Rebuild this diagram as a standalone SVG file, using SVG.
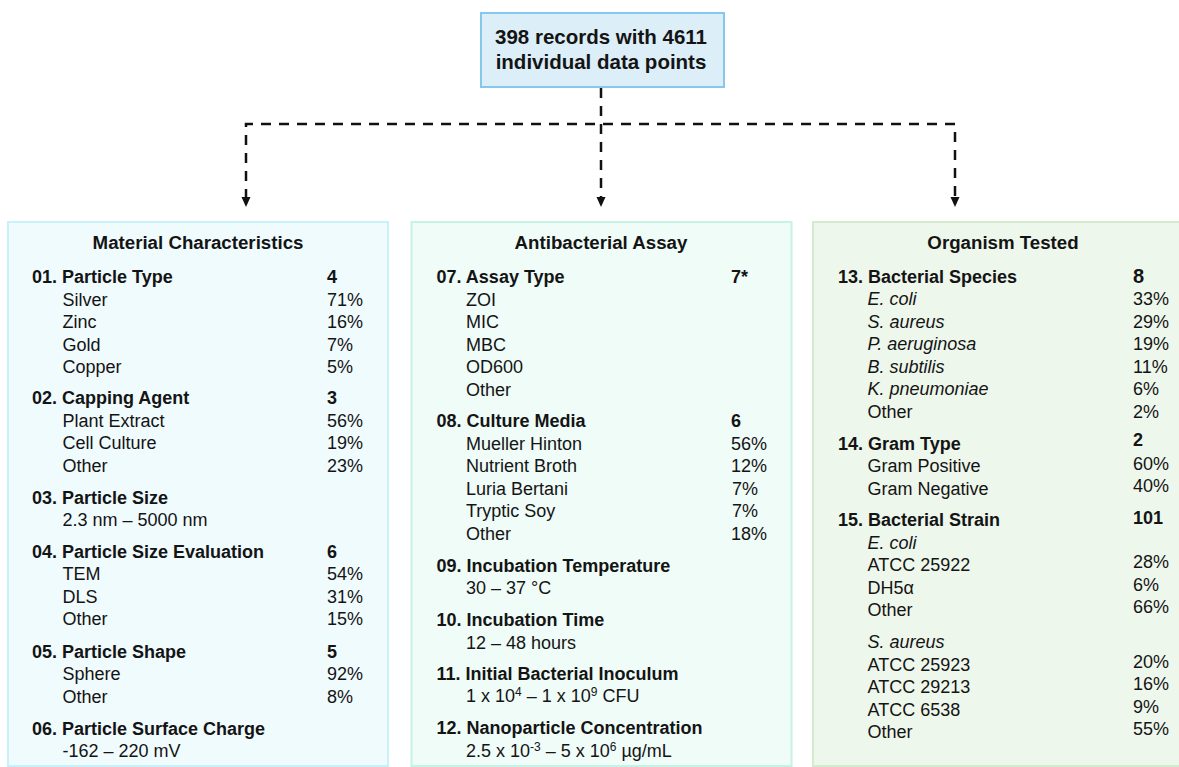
<svg xmlns="http://www.w3.org/2000/svg" width="1179" height="767" viewBox="0 0 1179 767">
<defs>
<style>
text{font-family:"Liberation Sans",Arial,sans-serif;fill:#141414;}
.t{font-size:18.7px;font-weight:bold;text-anchor:middle;}
.h{font-size:18px;font-weight:bold;}
.r{font-size:18px;}
.i{font-size:18px;font-style:italic;}
.top{font-size:20.5px;font-weight:bold;text-anchor:middle;}
.sup{font-size:12px;}
.conn{fill:none;stroke:#111;stroke-width:2.5;stroke-dasharray:10 8;}
</style>
<marker id="arr" markerUnits="userSpaceOnUse" markerWidth="12" markerHeight="12" refX="2" refY="4.5" orient="auto-start-reverse">
<path d="M0,0 L10,4.5 L0,9 z" fill="#111"/>
</marker>
</defs>
<rect width="1179" height="767" fill="#fff"/>

<g id="connectors">
<path class="conn" d="M601,88 V199" marker-end="url(#arr)"/>
<path class="conn" d="M246,199 V124 H955 V199" marker-start="url(#arr)" marker-end="url(#arr)"/>
</g>

<g id="node-records">
<rect x="481" y="13" width="243" height="74" fill="#DCEEF8" stroke="#86C8EC" stroke-width="2"/>
<text class="top" x="601" y="44">398 records with 4611</text>
<text class="top" x="601" y="69">individual data points</text>
</g>

<g id="node-material">
<rect x="8" y="222" width="380" height="544" fill="#F0FBFE" stroke="#C8F1F9" stroke-width="2"/>
<text class="t" x="198" y="249">Material Characteristics</text>
<text class="h" x="32" y="283">01. Particle Type</text><text class="h" x="327" y="283">4</text>
<text class="r" x="62.5" y="305.5">Silver</text><text class="r" x="327" y="305.5">71%</text>
<text class="r" x="62.5" y="328">Zinc</text><text class="r" x="327" y="328">16%</text>
<text class="r" x="62.5" y="350.5">Gold</text><text class="r" x="327" y="350.5">7%</text>
<text class="r" x="62.5" y="373">Copper</text><text class="r" x="327" y="373">5%</text>
<text class="h" x="32" y="404">02. Capping Agent</text><text class="h" x="327" y="404">3</text>
<text class="r" x="62.5" y="426.5">Plant Extract</text><text class="r" x="327" y="426.5">56%</text>
<text class="r" x="62.5" y="449">Cell Culture</text><text class="r" x="327" y="449">19%</text>
<text class="r" x="62.5" y="471.5">Other</text><text class="r" x="327" y="471.5">23%</text>
<text class="h" x="32" y="503.5">03. Particle Size</text>
<text class="r" x="62.5" y="526">2.3 nm – 5000 nm</text>
<text class="h" x="32" y="557.5">04. Particle Size Evaluation</text><text class="h" x="327" y="557.5">6</text>
<text class="r" x="62.5" y="580">TEM</text><text class="r" x="327" y="580">54%</text>
<text class="r" x="62.5" y="602.5">DLS</text><text class="r" x="327" y="602.5">31%</text>
<text class="r" x="62.5" y="625">Other</text><text class="r" x="327" y="625">15%</text>
<text class="h" x="32" y="657.5">05. Particle Shape</text><text class="h" x="327" y="657.5">5</text>
<text class="r" x="62.5" y="680">Sphere</text><text class="r" x="327" y="680">92%</text>
<text class="r" x="62.5" y="702.5">Other</text><text class="r" x="327" y="702.5">8%</text>
<text class="h" x="32" y="734.5">06. Particle Surface Charge</text>
<text class="r" x="62.5" y="757">-162 – 220 mV</text>
</g>

<g id="node-assay">
<rect x="411.5" y="222" width="380" height="544" fill="#EFFCF8" stroke="#C6F3E6" stroke-width="2"/>
<text class="t" x="601" y="249">Antibacterial Assay</text>
<text class="h" x="436.5" y="283">07. Assay Type</text><text class="h" x="731" y="283">7*</text>
<text class="r" x="466" y="305.5">ZOI</text>
<text class="r" x="466" y="328">MIC</text>
<text class="r" x="466" y="350.5">MBC</text>
<text class="r" x="466" y="373">OD600</text>
<text class="r" x="466" y="395.5">Other</text>
<text class="h" x="436.5" y="427">08. Culture Media</text><text class="h" x="731" y="427">6</text>
<text class="r" x="466" y="449.5">Mueller Hinton</text><text class="r" x="731" y="449.5">56%</text>
<text class="r" x="466" y="472">Nutrient Broth</text><text class="r" x="731" y="472">12%</text>
<text class="r" x="466" y="494.5">Luria Bertani</text><text class="r" x="732" y="494.5">7%</text>
<text class="r" x="466" y="517">Tryptic Soy</text><text class="r" x="732" y="517">7%</text>
<text class="r" x="466" y="539.5">Other</text><text class="r" x="731" y="539.5">18%</text>
<text class="h" x="436.5" y="571.5">09. Incubation Temperature</text>
<text class="r" x="466" y="594">30 – 37 °C</text>
<text class="h" x="436.5" y="626">10. Incubation Time</text>
<text class="r" x="466" y="648.5">12 – 48 hours</text>
<text class="h" x="436.5" y="679.5">11. Initial Bacterial Inoculum</text>
<text class="r" x="466" y="702">1 x 10<tspan class="sup" dy="-6">4</tspan><tspan dy="6"> – 1 x 10</tspan><tspan class="sup" dy="-6">9</tspan><tspan dy="6"> CFU</tspan></text>
<text class="h" x="436.5" y="733.5">12. Nanoparticle Concentration</text>
<text class="r" x="466" y="756.5">2.5 x 10<tspan class="sup" dy="-6">-3</tspan><tspan dy="6"> – 5 x 10</tspan><tspan class="sup" dy="-6">6</tspan><tspan dy="6"> µg/mL</tspan></text>
</g>

<g id="node-organism">
<rect x="813" y="222" width="380" height="544" fill="#EEF7EC" stroke="#D5EBCF" stroke-width="2"/>
<text class="t" x="1003" y="249">Organism Tested</text>
<text class="h" x="838" y="282.5">13. Bacterial Species</text><text class="h" x="1133" y="282.5" style="font-size:20px">8</text>
<text class="i" x="867.5" y="305">E. coli</text><text class="r" x="1133" y="305">33%</text>
<text class="i" x="867.5" y="327.5">S. aureus</text><text class="r" x="1133" y="327.5">29%</text>
<text class="i" x="867.5" y="350">P. aeruginosa</text><text class="r" x="1133" y="350">19%</text>
<text class="i" x="867.5" y="372.5">B. subtilis</text><text class="r" x="1133" y="372.5">11%</text>
<text class="i" x="867.5" y="395">K. pneumoniae</text><text class="r" x="1133" y="395">6%</text>
<text class="r" x="867.5" y="417.5">Other</text><text class="r" x="1133" y="417.5">2%</text>
<text class="h" x="838" y="449.5">14. Gram Type</text><text class="h" x="1133" y="446">2</text>
<text class="r" x="867.5" y="472">Gram Positive</text><text class="r" x="1133" y="469.5">60%</text>
<text class="r" x="867.5" y="494.5">Gram Negative</text><text class="r" x="1133" y="492">40%</text>
<text class="h" x="838" y="526">15. Bacterial Strain</text><text class="h" x="1133" y="523.5">101</text>
<text class="i" x="867.5" y="548.5">E. coli</text>
<text class="r" x="867.5" y="571">ATCC 25922</text><text class="r" x="1133" y="567.5">28%</text>
<text class="r" x="867.5" y="593.5">DH5α</text><text class="r" x="1133" y="590.5">6%</text>
<text class="r" x="867.5" y="616">Other</text><text class="r" x="1133" y="613">66%</text>
<text class="i" x="867.5" y="648">S. aureus</text>
<text class="r" x="867.5" y="670.5">ATCC 25923</text><text class="r" x="1133" y="667.5">20%</text>
<text class="r" x="867.5" y="693">ATCC 29213</text><text class="r" x="1133" y="690">16%</text>
<text class="r" x="867.5" y="715.5">ATCC 6538</text><text class="r" x="1133" y="712.5">9%</text>
<text class="r" x="867.5" y="738">Other</text><text class="r" x="1133" y="735">55%</text>
</g>
</svg>
